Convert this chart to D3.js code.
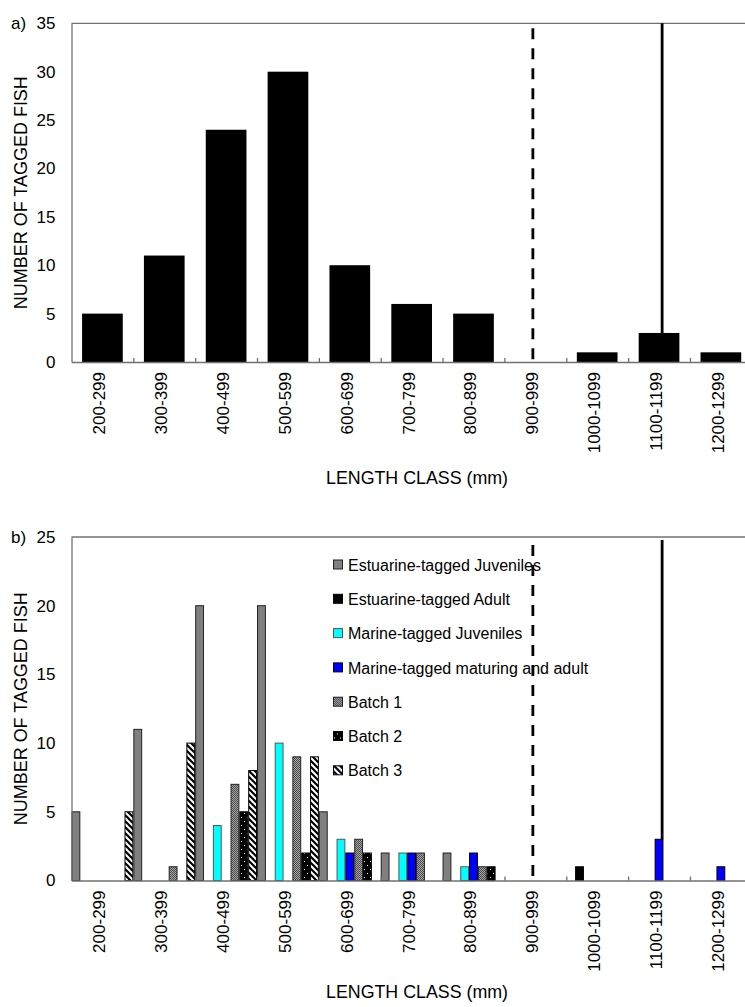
<!DOCTYPE html>
<html>
<head>
<meta charset="utf-8">
<script src="https://cdn.jsdelivr.net/npm/d3@7"></script>
<style>
  html, body { margin: 0; padding: 0; background: #fff; }
  svg { display: block; font-family: "Liberation Sans", Arial, sans-serif; }
</style>
</head>
<body>
<script>
// ── Data ────────────────────────────────────────────────────────────────────

const categories = ['200-299', '300-399', '400-499', '500-599', '600-699', '700-799',
                    '800-899', '900-999', '1000-1099', '1100-1199', '1200-1299'];
const classStartMm = [200, 300, 400, 500, 600, 700, 800, 900, 1000, 1100, 1200];

// panel a: all tagged fish
const taggedAll = [5, 11, 24, 30, 10, 6, 5, 0, 1, 3, 1];

// panel b: by group
const seriesNames = [
  'Estuarine-tagged Juveniles',
  'Estuarine-tagged Adult',
  'Marine-tagged Juveniles',
  'Marine-tagged maturing and adult',
  'Batch 1',
  'Batch 2',
  'Batch 3',
];
const estJuveniles = [5, 11, 20, 20, 5, 2, 2, 0, 0, 0, 0];
const estAdult     = [0, 0, 0, 0, 0, 0, 0, 0, 1, 0, 0];
const marJuveniles = [0, 0, 4, 10, 3, 2, 1, 0, 0, 0, 0];
const marAdult     = [0, 0, 0, 0, 2, 2, 2, 0, 0, 3, 1];
const batch1       = [0, 1, 7, 9, 3, 2, 1, 0, 0, 0, 0];
const batch2       = [0, 0, 5, 2, 2, 0, 1, 0, 0, 0, 0];
const batch3       = [5, 10, 8, 9, 0, 0, 0, 0, 0, 0, 0];
const seriesValues = [estJuveniles, estAdult, marJuveniles, marAdult, batch1, batch2, batch3];

const yTicksA = [0, 5, 10, 15, 20, 25, 30, 35];
const yTicksB = [0, 5, 10, 15, 20, 25];

// reference lines (mm)
const dashedLineMm = 946;
const solidLineMm  = 1155;

// ── Styles ──────────────────────────────────────────────────────────────────

const SERIES_FILL = [
  '#808080',
  '#000000',
  '#00ffff',
  '#0000ff',
  'url(#pat-batch1)',
  'url(#pat-batch2)',
  'url(#pat-batch3)',
];
const SERIES_STROKE = ['#222', '#000', '#555', '#000', '#222', '#000', '#000'];
const AXIS_COLOR = '#707070';
const FONT = 17;

const W = 745, H = 1007;
const plotLeft = 71.5, plotRight = 751.8;

const svg = d3.select('body').append('svg')
  .attr('width', W).attr('height', H);

// ── Patterns ────────────────────────────────────────────────────────────────

const defs = svg.append('defs');

const p1 = defs.append('pattern').attr('id', 'pat-batch1')
  .attr('patternUnits', 'userSpaceOnUse').attr('width', 2).attr('height', 2);
p1.append('rect').attr('width', 2).attr('height', 2).attr('fill', '#a6a6a6');
p1.append('rect').attr('width', 1).attr('height', 1).attr('fill', '#4a4a4a');
p1.append('rect').attr('x', 1).attr('y', 1).attr('width', 1).attr('height', 1).attr('fill', '#4a4a4a');

const p2 = defs.append('pattern').attr('id', 'pat-batch2')
  .attr('patternUnits', 'userSpaceOnUse').attr('width', 6).attr('height', 8);
p2.append('rect').attr('width', 6).attr('height', 8).attr('fill', '#000');
p2.append('rect').attr('x', 1).attr('y', 1).attr('width', 1).attr('height', 1).attr('fill', '#fff');
p2.append('rect').attr('x', 4).attr('y', 5).attr('width', 1).attr('height', 1).attr('fill', '#fff');

const p3 = defs.append('pattern').attr('id', 'pat-batch3')
  .attr('patternUnits', 'userSpaceOnUse').attr('width', 6).attr('height', 6);
p3.append('rect').attr('width', 6).attr('height', 6).attr('fill', '#fff');
p3.append('path')
  .attr('d', 'M-1,-1L7,7M-1,5L1,7M5,-1L7,1')
  .attr('stroke', '#000').attr('stroke-width', 2.2);

// ── Shared scales ───────────────────────────────────────────────────────────

const x = d3.scaleBand().domain(categories).range([plotLeft, plotRight]).padding(0);
const xMm = d3.scaleLinear().domain([200, 1300]).range([plotLeft, plotRight]);

function drawFrame(g, y, yTicks, top, bottom, tag, labelY) {
  // left axis
  const yAxis = g.append('g')
    .attr('transform', `translate(${plotLeft},0)`)
    .call(d3.axisLeft(y).tickValues(yTicks).tickSize(0).tickPadding(16));
  yAxis.select('.domain').attr('stroke', AXIS_COLOR).attr('stroke-width', 1.3);
  yAxis.attr('font-family', null).attr('font-size', FONT);
  yAxis.selectAll('.tick text').attr('fill', '#000');

  // top border
  g.append('line')
    .attr('x1', plotLeft).attr('x2', plotRight)
    .attr('y1', top).attr('y2', top)
    .attr('stroke', AXIS_COLOR).attr('stroke-width', 1.3);

  // baseline with inward ticks at class boundaries
  const base = g.append('g')
    .attr('transform', `translate(0,${bottom})`)
    .call(d3.axisBottom(xMm).tickValues(classStartMm.slice(1)).tickSize(-4).tickSizeOuter(0).tickFormat(''));
  base.selectAll('path, line').attr('stroke', AXIS_COLOR).attr('stroke-width', 1.3);

  // rotated class labels
  const xAxis = g.append('g')
    .attr('transform', `translate(0,${bottom})`)
    .call(d3.axisBottom(x).tickSize(0));
  xAxis.select('.domain').remove();
  xAxis.attr('font-family', null).attr('font-size', FONT);
  xAxis.selectAll('.tick text')
    .attr('fill', '#000')
    .attr('transform', 'rotate(-90)')
    .attr('text-anchor', 'end')
    .attr('x', -10)
    .attr('y', -3)
    .attr('dy', '0.35em');

  // panel tag
  g.append('text')
    .attr('x', 11).attr('y', top).attr('dy', '0.35em')
    .attr('font-size', FONT)
    .text(tag);

  // axis titles
  g.append('text')
    .attr('transform', `translate(21,${(top + bottom) / 2}) rotate(-90)`)
    .attr('text-anchor', 'middle').attr('dy', '0.35em')
    .attr('font-size', 18)
    .attr('textLength', 233).attr('lengthAdjust', 'spacingAndGlyphs')
    .text('NUMBER OF TAGGED FISH');

  g.append('text')
    .attr('x', 417).attr('y', labelY).attr('dy', '0.35em')
    .attr('text-anchor', 'middle')
    .attr('font-size', 18)
    .attr('textLength', 182).attr('lengthAdjust', 'spacingAndGlyphs')
    .text('LENGTH CLASS (mm)');
}

function drawRefLines(g, y, yTop, solidTo, bottom) {
  g.append('line')
    .attr('x1', xMm(dashedLineMm)).attr('x2', xMm(dashedLineMm))
    .attr('y1', yTop + 5).attr('y2', bottom - 2)
    .attr('stroke', '#000').attr('stroke-width', 2.8)
    .attr('stroke-dasharray', '11,9');
  g.append('line')
    .attr('x1', xMm(solidLineMm)).attr('x2', xMm(solidLineMm))
    .attr('y1', yTop).attr('y2', y(solidTo))
    .attr('stroke', '#000').attr('stroke-width', 2.8);
}

// ── Panel a ─────────────────────────────────────────────────────────────────

const topA = 23.3, bottomA = 362;
const yA = d3.scaleLinear().domain([0, 35]).range([bottomA, topA]);
const gA = svg.append('g');

const barW = x.bandwidth() * 0.658;
gA.append('g').selectAll('rect')
  .data(taggedAll.map((v, i) => ({ cat: categories[i], v })).filter(d => d.v > 0))
  .join('rect')
  .attr('x', d => x(d.cat) + (x.bandwidth() - barW) / 2)
  .attr('width', barW)
  .attr('y', d => yA(d.v))
  .attr('height', d => yA(0) - yA(d.v))
  .attr('fill', '#000');

drawFrame(gA, yA, yTicksA, topA, bottomA, 'a)', 478);
drawRefLines(gA, yA, topA, taggedAll[categories.indexOf('1100-1199')], bottomA);

// ── Panel b ─────────────────────────────────────────────────────────────────

const topB = 537, bottomB = 880.5;
const yB = d3.scaleLinear().domain([0, 25]).range([bottomB, topB]);
const gB = svg.append('g');
const xSub = d3.scaleBand().domain(seriesNames).range([0, x.bandwidth()]).padding(0);

const barsB = [];
categories.forEach((cat, i) => {
  seriesValues.forEach((vals, s) => {
    if (vals[i] > 0) barsB.push({ cat, s, v: vals[i] });
  });
});

gB.append('g').selectAll('rect')
  .data(barsB)
  .join('rect')
  .attr('x', d => x(d.cat) + xSub(seriesNames[d.s]) + 0.5)
  .attr('width', xSub.bandwidth() - 1)
  .attr('y', d => yB(d.v))
  .attr('height', d => yB(0) - yB(d.v))
  .attr('fill', d => SERIES_FILL[d.s])
  .attr('stroke', d => SERIES_STROKE[d.s])
  .attr('stroke-width', 1);

drawFrame(gB, yB, yTicksB, topB, bottomB, 'b)', 992);

// legend
const legend = gB.append('g').attr('transform', 'translate(333,565)');
const item = legend.selectAll('g')
  .data(seriesNames)
  .join('g')
  .attr('transform', (d, i) => `translate(0,${i * 34.3})`);
item.append('rect')
  .attr('x', 0.5).attr('y', -5).attr('width', 9).attr('height', 9)
  .attr('fill', (d, i) => SERIES_FILL[i])
  .attr('stroke', (d, i) => SERIES_STROKE[i]);
item.append('text')
  .attr('x', 15).attr('dy', '0.35em')
  .attr('font-size', 16)
  .text(d => d);

drawRefLines(gB, yB, topB + 3, marAdult[categories.indexOf('1100-1199')], bottomB);
</script>
</body>
</html>
